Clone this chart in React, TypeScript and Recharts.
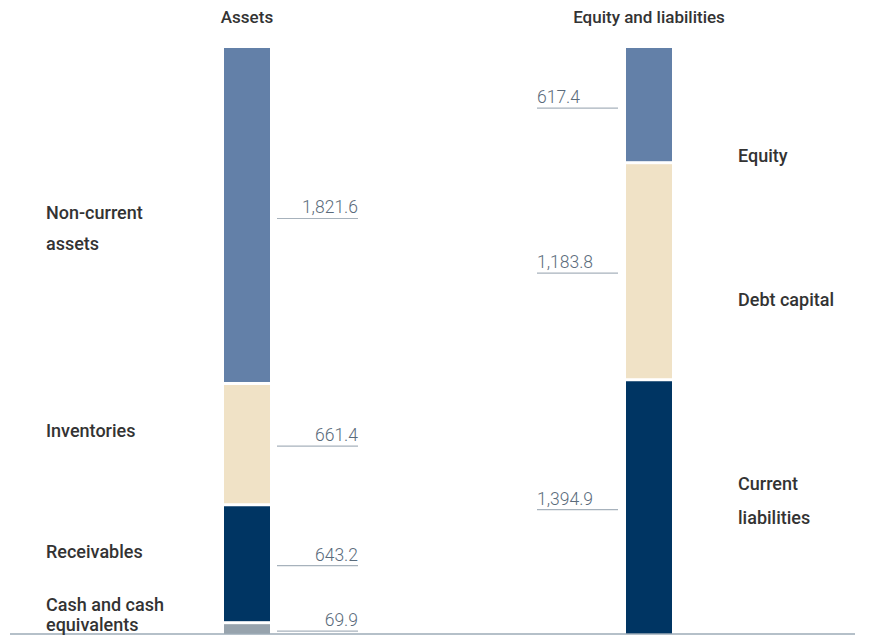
import React from "react";
import { BarChart, Bar, XAxis, YAxis, LabelList } from "recharts";

const sides = ["Assets", "Equity and liabilities"];

// stacked bottom to top
const assetKeys = ["cash", "receivables", "inventories", "nonCurrent"];
const assetNames = [["Cash and cash", "equivalents"], ["Receivables"], ["Inventories"], ["Non-current", "assets"]];
const assetValues = [69.9, 643.2, 661.4, 1821.6];

const liabKeys = ["current", "debt", "equity"];
const liabNames = [["Current", "liabilities"], ["Debt capital"], ["Equity"]];
const liabValues = [1394.9, 1183.8, 617.4];

const assetColors = ["#97a3ad", "#003563", "#f0e2c6", "#6380a8"];
const liabColors = ["#003563", "#f0e2c6", "#6380a8"];

// name label placement relative to segment middle: first line dy, line gap
const assetNameDy = [-23, -11, -12, -2];
const assetNameGap = [20, 0, 0, 31];
const liabNameDy = [-23, 30, 51];
const liabNameGap = [34, 0, 0];

const total = Math.max(
  assetValues.reduce((a, b) => a + b, 0),
  liabValues.reduce((a, b) => a + b, 0)
);

const data = [
  { side: sides[0], ...Object.fromEntries(assetKeys.map((k, i) => [k, assetValues[i]])) },
  { side: sides[1], ...Object.fromEntries(liabKeys.map((k, i) => [k, liabValues[i]])) },
];

const fmt = (v: number) =>
  v.toLocaleString("en-US", { minimumFractionDigits: 1, maximumFractionDigits: 1 });

const GAP = 3;
const makeShape = (trimTop: boolean) => (props: any) => {
  const { x, y, width, height, fill } = props;
  if (!height || height <= 0) return <g />;
  const t = trimTop ? GAP : 0;
  return <rect x={x} y={y + t} width={width} height={Math.max(0, height - t)} fill={fill} />;
};

const makeLabel = (names: string[][], idx: number, rowIndex: number, dys: number[], gaps: number[]) =>
  (props: any) => {
    const { x, y, width, height, value, index } = props;
    if (index !== rowIndex || value == null) return null;
    const cy = y + height / 2;
    const lineY = cy + 3.5;
    const isLeft = rowIndex === 0;
    const lx1 = isLeft ? x + width + 7 : x - 89;
    const lx2 = lx1 + 81;
    const nameX = isLeft ? x - 178 : x + width + 66;
    const lines = names[idx];
    return (
      <g>
        <line x1={lx1} x2={lx2} y1={lineY} y2={lineY} stroke="#a7b2bc" strokeWidth={1.2} />
        <text
          x={isLeft ? lx2 : lx1}
          y={lineY - 5}
          textAnchor={isLeft ? "end" : "start"}
          fontFamily="Roboto"
          fontWeight={300}
          fontSize={17.5}
          fill="#5a6b7b"
        >
          {fmt(Number(value))}
        </text>
        {lines.map((ln, i) => (
          <text
            key={i}
            x={nameX}
            y={cy + dys[idx] + i * gaps[idx]}
            dominantBaseline="central"
            fontFamily="Roboto"
            fontWeight={500}
            fontSize={18}
            fill="#333333"
          >
            {ln}
          </text>
        ))}
      </g>
    );
  };

const TopTick = (props: any) => {
  const { x, payload } = props;
  return (
    <text x={x} y={23} textAnchor="middle" fontFamily="Roboto" fontWeight={500} fontSize={17} fill="#333333">
      {payload.value}
    </text>
  );
};

export default function App() {
  return (
    <div style={{ position: "absolute", left: 0, top: 0, background: "#fff" }}>
      <BarChart width={876} height={636} data={data} margin={{ top: 0, right: 21, bottom: 0, left: 10 }}>
        <XAxis
          xAxisId="top"
          orientation="top"
          dataKey="side"
          height={48}
          axisLine={false}
          tickLine={false}
          tick={<TopTick />}
          padding={{ left: 36, right: 5 }}
        />
        <XAxis
          xAxisId="bottom"
          dataKey="side"
          height={2}
          tick={false}
          tickLine={false}
          axisLine={{ stroke: "#9dabb7", strokeWidth: 1.5 }}
          padding={{ left: 36, right: 5 }}
        />
        <YAxis hide domain={[0, total]} />
        {assetKeys.map((k, i) => (
          <Bar
            key={k}
            xAxisId="bottom"
            dataKey={k}
            stackId="s"
            barSize={46}
            fill={assetColors[i]}
            shape={makeShape(i < assetKeys.length - 1)}
            isAnimationActive={false}
          >
            <LabelList dataKey={k} content={makeLabel(assetNames, i, 0, assetNameDy, assetNameGap)} />
          </Bar>
        ))}
        {liabKeys.map((k, i) => (
          <Bar
            key={k}
            xAxisId="bottom"
            dataKey={k}
            stackId="s"
            barSize={46}
            fill={liabColors[i]}
            shape={makeShape(i < liabKeys.length - 1)}
            isAnimationActive={false}
          >
            <LabelList dataKey={k} content={makeLabel(liabNames, i, 1, liabNameDy, liabNameGap)} />
          </Bar>
        ))}
      </BarChart>
    </div>
  );
}
